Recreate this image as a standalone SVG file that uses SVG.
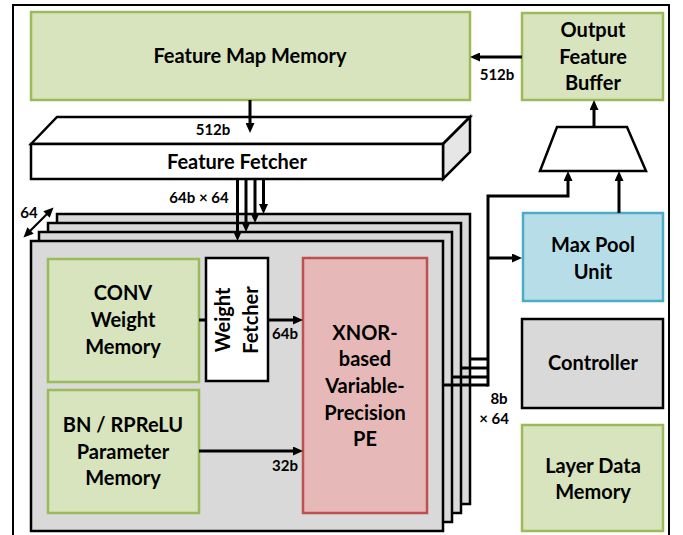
<svg xmlns="http://www.w3.org/2000/svg" width="683" height="535" viewBox="0 0 683 535">
<style>
text{font-family:Lato,"Open Sans","Liberation Sans",sans-serif;font-weight:bold;fill:#000;text-anchor:middle}
.big{font-size:20px}
.sm{font-size:15px}
.green{fill:#d7e4bd;stroke:#9bbb59;stroke-width:2.5}
.blue{fill:#b7dee8;stroke:#4bacc6;stroke-width:2.5}
.red{fill:#e6b9b8;stroke:#c0504d;stroke-width:2.5}
.gray{fill:#d9d9d9;stroke:#000;stroke-width:2.5}
.white{fill:#fff;stroke:#000;stroke-width:2.5}
.conn{fill:none;stroke:#000;stroke-width:3}
</style>
<defs>
<marker id="ah" viewBox="0 0 10 9" markerWidth="10" markerHeight="9" refX="5" refY="4.5" orient="auto" markerUnits="userSpaceOnUse">
<path d="M0,0 L10,4.5 L0,9 z" fill="#000"/>
</marker>
<marker id="ah2" viewBox="0 0 10 9" markerWidth="10" markerHeight="9" refX="5" refY="4.5" orient="auto-start-reverse" markerUnits="userSpaceOnUse">
<path d="M0,0 L10,4.5 L0,9 z" fill="#000"/>
</marker>
</defs>
<rect width="683" height="535" fill="#fff"/>
<path d="M13,540 V5 H669 V540" fill="none" stroke="#000" stroke-width="2"/>

<g id="feature-map-memory">
<rect class="green" x="31" y="12" width="439" height="88"/>
<text class="big" x="250" y="63">Feature Map Memory</text>
</g>

<g id="output-feature-buffer">
<rect class="green" x="522" y="13" width="141" height="87"/>
<text class="big" x="593" y="37">Output</text>
<text class="big" x="593" y="64">Feature</text>
<text class="big" x="593" y="90">Buffer</text>
</g>

<g id="feature-fetcher">
<polygon points="31,144 57,117 470,117 443,144" fill="#fff" stroke="#000" stroke-width="2.5" stroke-linejoin="miter"/>
<polygon points="443,144 470,117 470,152 443,179" fill="#e7e6e6" stroke="#000" stroke-width="2.5"/>
<rect class="white" x="31" y="144" width="412" height="35"/>
<text class="big" x="237" y="169">Feature Fetcher</text>
</g>

<g id="mux">
<polygon points="557,127 627,127 646,171 540,171" fill="#fff" stroke="#000" stroke-width="2.5"/>
</g>

<g id="max-pool-unit">
<rect class="blue" x="523" y="213" width="140" height="88"/>
<text class="big" x="593" y="252">Max Pool</text>
<text class="big" x="593" y="279">Unit</text>
</g>

<g id="controller">
<rect class="gray" x="522" y="319" width="141" height="89"/>
<text class="big" x="593" y="370">Controller</text>
</g>

<g id="layer-data-memory">
<rect class="green" x="522" y="425" width="141" height="106"/>
<text class="big" x="593" y="473">Layer Data</text>
<text class="big" x="593" y="499">Memory</text>
</g>

<g id="pe-stack">
<rect class="gray" x="57" y="214" width="413" height="290"/>
<rect class="gray" x="48" y="223" width="413" height="290"/>
<rect class="gray" x="39" y="232" width="413" height="290"/>
<rect class="gray" x="31" y="241" width="412" height="290"/>
</g>

<g id="conv-weight-memory">
<rect class="green" x="48" y="259" width="151" height="123"/>
<text class="big" x="123" y="300">CONV</text>
<text class="big" x="123" y="327">Weight</text>
<text class="big" x="123" y="354">Memory</text>
</g>

<g id="bn-rprelu-parameter-memory">
<rect class="green" x="48" y="390" width="151" height="123"/>
<text class="big" x="123" y="432">BN / RPReLU</text>
<text class="big" x="123" y="459">Parameter</text>
<text class="big" x="123" y="485">Memory</text>
</g>

<g id="weight-fetcher">
<rect class="white" x="206" y="258" width="62" height="123"/>
<text class="big" transform="translate(230,320) rotate(-90)">Weight</text>
<text class="big" transform="translate(258,320) rotate(-90)">Fetcher</text>
</g>

<g id="pe">
<rect class="red" x="303" y="258" width="124" height="255"/>
<text class="big" x="365" y="340">XNOR-</text>
<text class="big" x="365" y="366">based</text>
<text class="big" x="365" y="393">Variable-</text>
<text class="big" x="365" y="420">Precision</text>
<text class="big" x="365" y="446">PE</text>
</g>

<g id="connectors">
<path class="conn" d="M522,57 H475" marker-end="url(#ah)"/>
<path class="conn" d="M250,100 V128" marker-end="url(#ah)"/>
<path class="conn" d="M237.5,179 V236" marker-end="url(#ah)"/>
<path class="conn" d="M246,179 V227" marker-end="url(#ah)"/>
<path class="conn" d="M255,179 V218" marker-end="url(#ah)"/>
<path class="conn" d="M263.5,179 V209" marker-end="url(#ah)"/>
<path class="conn" d="M199,320 H206"/>
<path class="conn" d="M268,320 H298" marker-end="url(#ah)"/>
<path class="conn" d="M199,451 H298" marker-end="url(#ah)"/>
<path class="conn" d="M443,385 H488"/>
<path class="conn" d="M452,377 H488"/>
<path class="conn" d="M461,368 H488"/>
<path class="conn" d="M470,359 H488"/>
<path class="conn" d="M488,386.5 V196 H568 V176" marker-end="url(#ah)"/>
<path class="conn" d="M488,258 H517" marker-end="url(#ah)"/>
<path class="conn" d="M619,213 V176" marker-end="url(#ah)"/>
<path class="conn" d="M594,127 V105" marker-end="url(#ah)"/>
<path fill="none" stroke="#000" stroke-width="2.2" d="M27,234 L50,211" marker-start="url(#ah2)" marker-end="url(#ah2)"/>
</g>

<g id="labels">
<text class="sm" x="497" y="80">512b</text>
<text class="sm" x="213" y="135">512b</text>
<text class="sm" x="199" y="203">64b × 64</text>
<text class="sm" x="29" y="218">64</text>
<text class="sm" x="285" y="339">64b</text>
<text class="sm" x="285" y="471">32b</text>
<text class="sm" x="499" y="404">8b</text>
<text class="sm" x="494" y="424">× 64</text>
</g>
</svg>
